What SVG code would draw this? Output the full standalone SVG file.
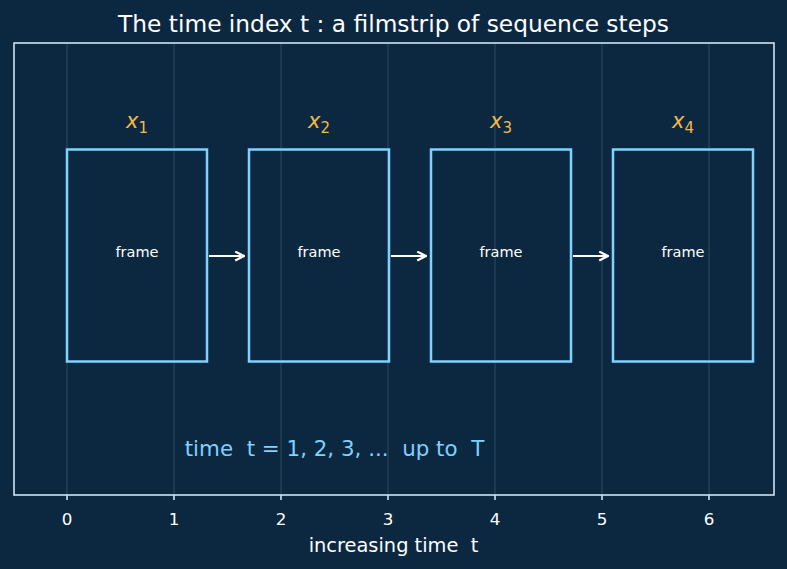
<svg xmlns="http://www.w3.org/2000/svg" width="787" height="569" viewBox="0 0 787 569">
<style>
text{font-family:"DejaVu Sans",sans-serif;white-space:pre}
.grid{stroke:#8aa4bb;stroke-width:0.8;opacity:0.35}
.frm{fill:none;stroke:#7fd1ff;stroke-width:2.5}
.lbl{fill:#ffffff;font-size:14.5px;text-anchor:middle}
.xl{fill:#f5b942;font-size:21px;font-style:italic;text-anchor:middle}
.sub{font-size:15px;font-style:normal}
.tick{fill:#ffffff;font-size:16.7px;text-anchor:middle}
.arr{stroke:#ffffff;stroke-width:2.2;fill:none}
</style>
<defs>
<marker id="ah" viewBox="0 0 10 10" refX="9" refY="5" markerWidth="5" markerHeight="5" orient="auto" markerUnits="strokeWidth">
<path d="M1,1 L9,5 L1,9" fill="none" stroke="#ffffff" stroke-width="2"/>
</marker>
</defs>
<rect width="787" height="569" fill="#0c2841"/>
<text x="393.5" y="32" fill="#ffffff" font-size="23.3" text-anchor="middle">The time index t : a filmstrip of sequence steps</text>
<g id="grid">
<line class="grid" x1="67" y1="43" x2="67" y2="495"/>
<line class="grid" x1="174" y1="43" x2="174" y2="495"/>
<line class="grid" x1="281" y1="43" x2="281" y2="495"/>
<line class="grid" x1="388" y1="43" x2="388" y2="495"/>
<line class="grid" x1="495" y1="43" x2="495" y2="495"/>
<line class="grid" x1="602" y1="43" x2="602" y2="495"/>
<line class="grid" x1="709" y1="43" x2="709" y2="495"/>
</g>
<rect x="14" y="43" width="760" height="452" fill="none" stroke="#cfe3f3" stroke-width="1.6"/>
<g id="ticks" stroke="#cfe3f3" stroke-width="1.6">
<line x1="67" y1="495" x2="67" y2="500"/>
<line x1="174" y1="495" x2="174" y2="500"/>
<line x1="281" y1="495" x2="281" y2="500"/>
<line x1="388" y1="495" x2="388" y2="500"/>
<line x1="495" y1="495" x2="495" y2="500"/>
<line x1="602" y1="495" x2="602" y2="500"/>
<line x1="709" y1="495" x2="709" y2="500"/>
</g>
<g id="ticklabels">
<text class="tick" x="67" y="525">0</text>
<text class="tick" x="174" y="525">1</text>
<text class="tick" x="281" y="525">2</text>
<text class="tick" x="388" y="525">3</text>
<text class="tick" x="495" y="525">4</text>
<text class="tick" x="602" y="525">5</text>
<text class="tick" x="709" y="525">6</text>
</g>
<text x="393.5" y="552" fill="#ffffff" font-size="19.4" text-anchor="middle">increasing time  t</text>
<g id="frame1">
<rect class="frm" x="67" y="149.5" width="140" height="212"/>
<text class="lbl" x="137" y="257">frame</text>
<text class="xl" x="137" y="128">x<tspan class="sub" dy="5">1</tspan></text>
</g>
<g id="frame2">
<rect class="frm" x="249" y="149.5" width="140" height="212"/>
<text class="lbl" x="319" y="257">frame</text>
<text class="xl" x="319" y="128">x<tspan class="sub" dy="5">2</tspan></text>
</g>
<g id="frame3">
<rect class="frm" x="431" y="149.5" width="140" height="212"/>
<text class="lbl" x="501" y="257">frame</text>
<text class="xl" x="501" y="128">x<tspan class="sub" dy="5">3</tspan></text>
</g>
<g id="frame4">
<rect class="frm" x="613" y="149.5" width="140" height="212"/>
<text class="lbl" x="683" y="257">frame</text>
<text class="xl" x="683" y="128">x<tspan class="sub" dy="5">4</tspan></text>
</g>
<g id="connectors">
<line class="arr" x1="209" y1="256" x2="244" y2="256" marker-end="url(#ah)"/>
<line class="arr" x1="391" y1="256" x2="426" y2="256" marker-end="url(#ah)"/>
<line class="arr" x1="573" y1="256" x2="608" y2="256" marker-end="url(#ah)"/>
</g>
<text x="334.5" y="456" fill="#7fd1ff" font-size="21.4" text-anchor="middle">time  t = 1, 2, 3, ...  up to  T</text>
</svg>
